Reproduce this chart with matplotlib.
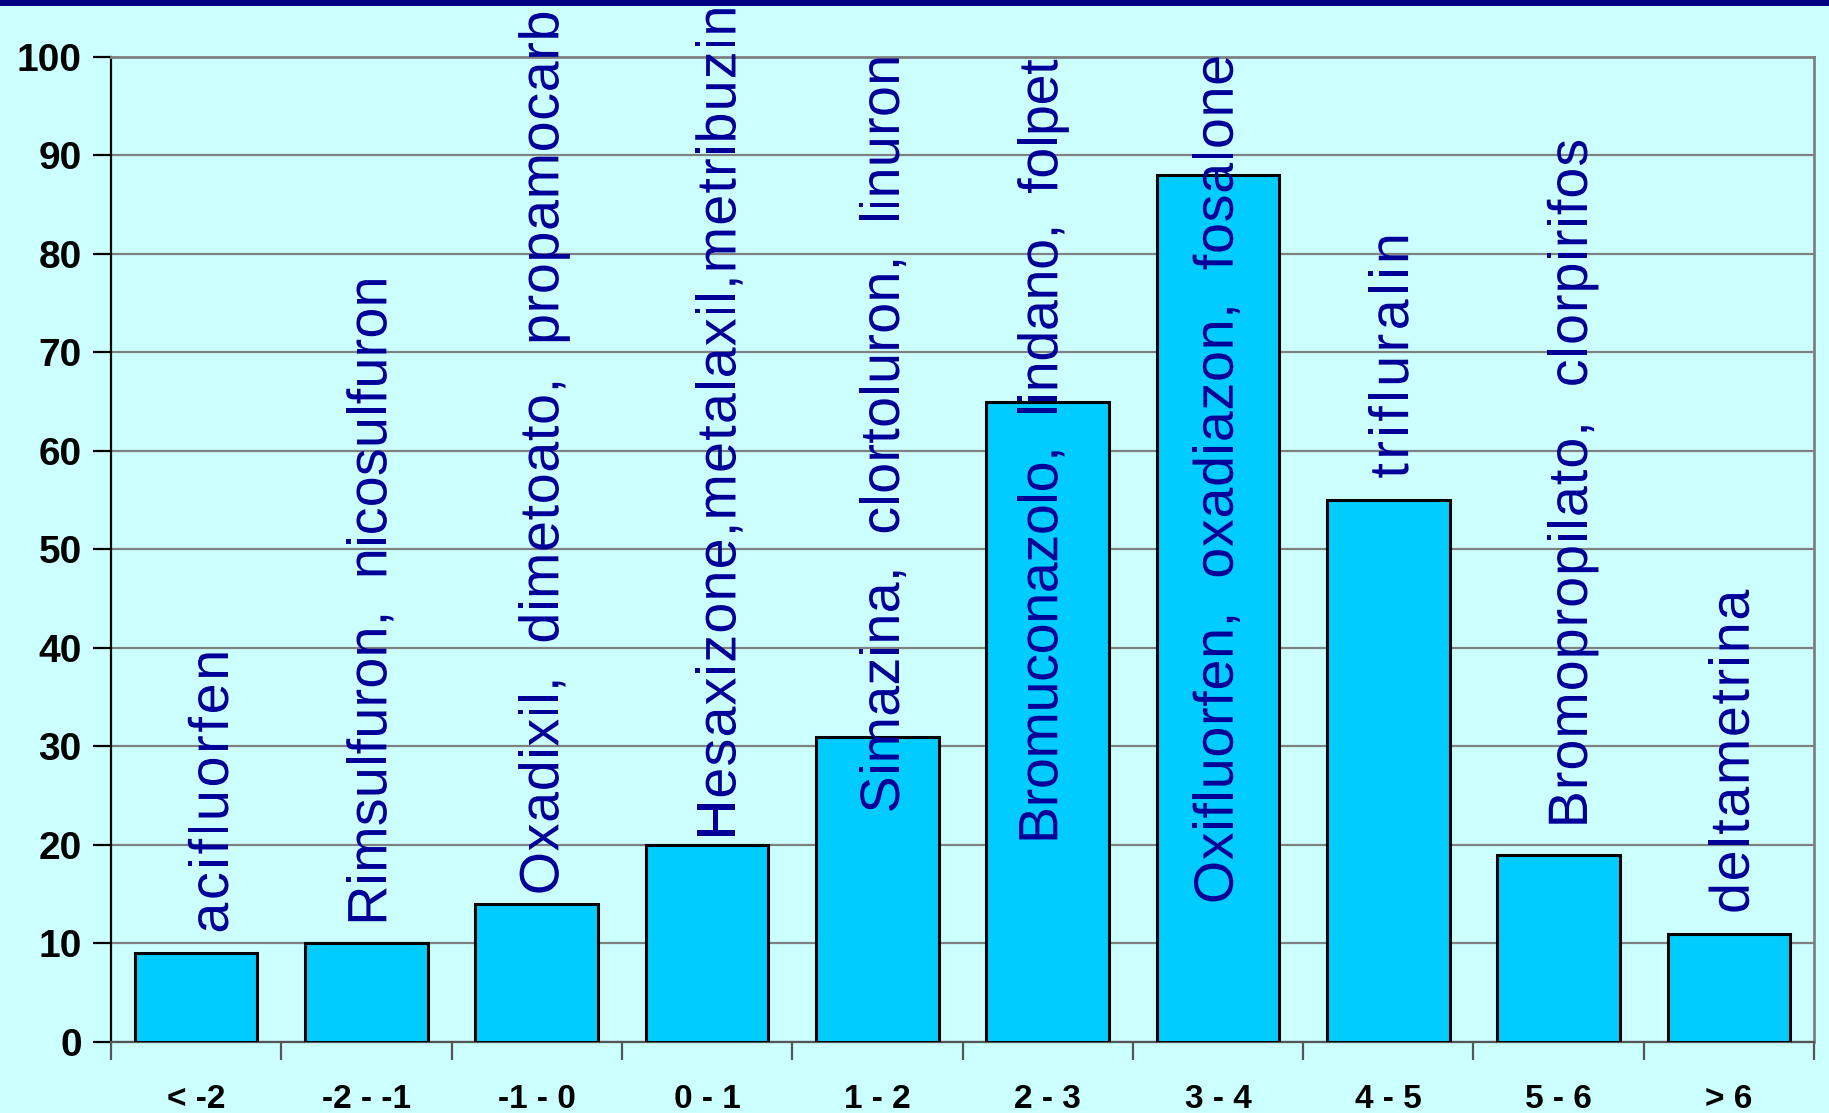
import matplotlib
matplotlib.use("Agg")
import matplotlib.pyplot as plt
from matplotlib.lines import Line2D
from matplotlib.patches import PathPatch
from matplotlib.textpath import TextPath
from matplotlib.transforms import Affine2D
from matplotlib.font_manager import FontProperties, findfont
from matplotlib.ft2font import FT2Font

try:
    from matplotlib.ft2font import LoadFlags
    NO_HINT = LoadFlags.NO_HINTING
except ImportError:
    from matplotlib.ft2font import LOAD_NO_HINTING as NO_HINT

# Classes of log Kow and number of active substances per class
categories = ["< -2", "-2 - -1", "-1 - 0", "0 - 1", "1 - 2", "2 - 3", "3 - 4", "4 - 5", "5 - 6", "> 6"]
counts = [9, 10, 14, 20, 31, 65, 88, 55, 19, 11]
substances = [
    "acifluorfen",
    "Rimsulfuron,  nicosulfuron",
    "Oxadixil,  dimetoato,  propamocarb",
    "Hesaxizone,metalaxil,metribuzin",
    "Simazina,  clortoluron,  linuron",
    "Bromuconazolo,  lindano,  folpet",
    "Oxifluorfen,  oxadiazon,  fosalone",
    "trifluralin",
    "Bromopropilato,  clorpirifos",
    "deltametrina",
]
# Vertical extent of each substance label (y units) and its sideways nudge
label_start = [11.0, 11.8, 14.9, 20.5, 23.2, 20.1, 14.0, 57.2, 21.7, 13.0]
label_end = [39.5, 77.4, 104.4, 104.9, 99.9, 99.6, 99.9, 81.8, 91.4, 45.6]
label_dx = [0.07, 0.0, 0.01, 0.05, 0.01, -0.06, -0.03, 0.0, 0.05, 0.0]
yticks = list(range(0, 101, 10))

bg = "#CCFFFF"
bar_color = "#00CCFF"
text_blue = "#000099"
font = "Liberation Sans"
label_size = 40
DPI = 100

fig = plt.figure(figsize=(18.29, 11.13), dpi=DPI, facecolor=bg)
ax = fig.add_axes([0.0607, 0.0638, 0.9311, 0.885])
ax.set_facecolor(bg)

x = list(range(len(categories)))
ax.bar(x, counts, width=0.72, color=bar_color, edgecolor="black", linewidth=2.2, zorder=3)

ax.set_xlim(-0.5, len(categories) - 0.5)
ax.set_ylim(0, 100)
ax.set_yticks(yticks)
ax.yaxis.grid(True, color="#808080", linewidth=1.6, zorder=0)
ax.set_axisbelow(True)

for s in ["top", "right"]:
    ax.spines[s].set_color("#808080")
    ax.spines[s].set_linewidth(2.0)
ax.spines["left"].set_color("black")
ax.spines["left"].set_linewidth(1.6)
ax.spines["bottom"].set_color("#555555")
ax.spines["bottom"].set_linewidth(1.6)

ax.tick_params(axis="y", length=13, width=1.6, color="black", pad=8)
for lab in ax.get_yticklabels():
    lab.set_fontfamily(font)
    lab.set_fontweight("bold")
    lab.set_fontsize(28)

ax.set_xticks(x)
ax.set_xticklabels(categories, fontfamily=font, fontweight="bold", fontsize=24)
ax.tick_params(axis="x", length=0, pad=30)
ax.set_xticks([i - 0.5 for i in range(len(categories) + 1)], minor=True)
ax.tick_params(axis="x", which="minor", length=13, width=1.6, color="#555555")

# Vertical substance labels, laid out glyph by glyph so that each one spans
# its given vertical extent (letter spacing is stretched to fit).
prop = FontProperties(family=font, size=label_size)
ft = FT2Font(findfont(prop))
ft.set_size(label_size, 72)


def advance(ch):
    g = ft.load_char(ord(ch), flags=NO_HINT)
    return g.linearHoriAdvance / 65536.0  # points


pt2px = DPI / 72.0
cap_px = 0.716 * label_size * pt2px

for i, name in enumerate(substances):
    cx, y0 = ax.transData.transform((i + label_dx[i], label_start[i]))
    _, y1 = ax.transData.transform((i + label_dx[i], label_end[i]))
    advs = [advance(c) * pt2px for c in name]
    natural = sum(advs) - 0.1 * advs[-1]
    track = ((y1 - y0) - natural) / max(len(name) - 1, 1)
    baseline_x = cx + cap_px / 2.0
    pen = y0
    for ch, a in zip(name, advs):
        if ch != " ":
            path = TextPath((0, 0), ch, size=label_size, prop=prop)
            tr = Affine2D().scale(pt2px).rotate_deg(90).translate(baseline_x, pen)
            fig.add_artist(PathPatch(path, transform=tr, facecolor=text_blue,
                                     edgecolor="none", zorder=4))
        pen += a + track

# Dark frame line across the top of the slide
fig.add_artist(Line2D([0, 1], [0.998, 0.998], transform=fig.transFigure,
                      color="#000080", linewidth=5))

fig.savefig("out.png", dpi=DPI, facecolor=bg)
